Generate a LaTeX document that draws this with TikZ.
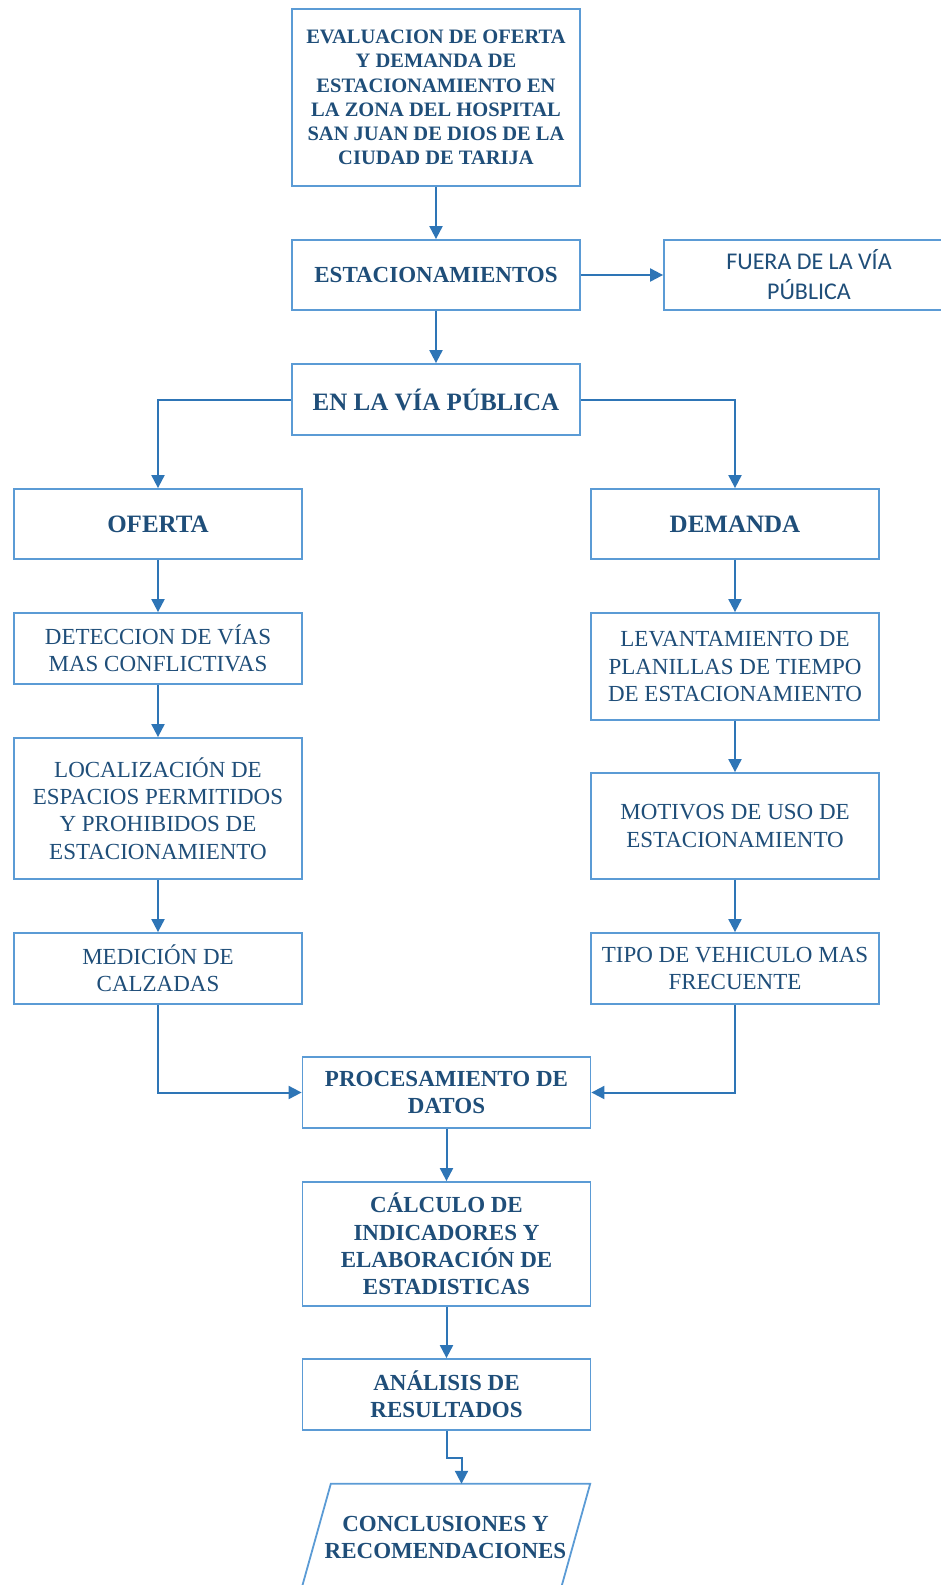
\documentclass[tikz,border=0pt]{standalone}
\usepackage{fontspec}
\setmainfont{Liberation Serif}
\newfontfamily\letrasans{Carlito}
\usetikzlibrary{
    positioning,                      % colocacion relativa
    arrows.meta,                      % puntas Triangle
    calc                              % aritmetica de coordenadas
}
\definecolor{borde}{HTML}{5B9BD5}
\definecolor{flecha}{HTML}{2E75B6}
\definecolor{texto}{HTML}{1F4E79}

\begin{document}
\begin{tikzpicture}[
        x=1pt, y=-1pt,
        caja/.style={draw=borde, line width=1.8pt, fill=white, align=center, text=texto,
            inner sep=2pt, minimum width=288pt, font=\fontsize{23}{27.3}\selectfont},
        cajab/.style={caja, font=\fontsize{23}{27.3}\selectfont\bfseries},
        titular/.style={caja, font=\fontsize{25}{30}\selectfont\bfseries},
        flujo/.style={draw=flecha, line width=2pt, -{Triangle[length=13pt,width=13pt]}}]

        \useasboundingbox (0,0) rectangle (941,1585);

        % columna central
        \node[cajab, minimum height=177pt, font=\fontsize{20.5}{24.3}\selectfont\bfseries] (titulo) at (436,97.5)
            {EVALUACION DE OFERTA\\Y DEMANDA DE\\ESTACIONAMIENTO EN\\LA ZONA DEL HOSPITAL\\SAN JUAN DE DIOS DE LA\\CIUDAD DE TARIJA};
        \node[cajab, minimum height=70pt] (estac) at (436,275) {ESTACIONAMIENTOS};
        \node[caja, minimum height=70pt, minimum width=290pt, font=\letrasans\fontsize{24}{30}\selectfont] (fuera) at (809,275)
            {FUERA DE LA VÍA\\PÚBLICA};
        \node[titular, minimum height=71pt] (via) at (436,399.5) {EN LA VÍA PÚBLICA};

        % rama de oferta
        \node[titular, minimum height=70pt] (oferta) at (158,524) {OFERTA};
        \node[caja, minimum height=71pt] (deteccion) at (158,648.5) {DETECCION DE VÍAS\\MAS CONFLICTIVAS};
        \node[caja, minimum height=141pt] (localiza) at (158,808.5)
            {LOCALIZACIÓN DE\\ESPACIOS PERMITIDOS\\Y PROHIBIDOS DE\\ESTACIONAMIENTO};
        \node[caja, minimum height=71pt] (medicion) at (158,968.5) {MEDICIÓN DE\\CALZADAS};

        % rama de demanda
        \node[titular, minimum height=70pt] (demanda) at (735,524) {DEMANDA};
        \node[caja, minimum height=107pt] (levanta) at (735,666.5)
            {LEVANTAMIENTO DE\\PLANILLAS DE TIEMPO\\DE ESTACIONAMIENTO};
        \node[caja, minimum height=106pt] (motivos) at (735,826) {MOTIVOS DE USO DE\\ESTACIONAMIENTO};
        \node[caja, minimum height=71pt] (tipo) at (735,968.5) {TIPO DE VEHICULO MAS\\FRECUENTE};

        % tramo final
        \node[cajab, minimum height=71pt] (proceso) at (446.5,1092.5) {PROCESAMIENTO DE\\DATOS};
        \node[cajab, minimum height=124pt] (calculo) at (446.5,1244)
            {CÁLCULO DE\\INDICADORES Y\\ELABORACIÓN DE\\ESTADISTICAS};
        \node[cajab, minimum height=71pt] (analisis) at (446.5,1394.5) {ANÁLISIS DE\\RESULTADOS};
        \node[font=\fontsize{23}{27.3}\selectfont\bfseries, text=texto, align=center,
            minimum height=107pt, minimum width=259pt, inner sep=0pt] (conclusion) at (445.5,1537.5)
            {CONCLUSIONES Y\\RECOMENDACIONES};
        \draw[draw=borde, line width=1.8pt]
            ($(conclusion.north west)+(15,0)$) -- ($(conclusion.north east)+(15,0)$) --
            ($(conclusion.south east)+(-15,0)$) -- ($(conclusion.south west)+(-15,0)$) -- cycle;

        \draw[flujo] (titulo) -- (estac);
        \draw[flujo] (estac) -- (fuera);
        \draw[flujo] (estac) -- (via);
        \draw[flujo] (via.west) -| (oferta.north);
        \draw[flujo] (via.east) -| (demanda.north);
        \draw[flujo] (oferta) -- (deteccion);
        \draw[flujo] (deteccion) -- (localiza);
        \draw[flujo] (localiza) -- (medicion);
        \draw[flujo] (demanda) -- (levanta);
        \draw[flujo] (levanta) -- (motivos);
        \draw[flujo] (motivos) -- (tipo);
        \draw[flujo] (medicion.south) |- (proceso.west);
        \draw[flujo] (tipo.south) |- (proceso.east);
        \draw[flujo] (proceso) -- (calculo);
        \draw[flujo] (calculo) -- (analisis);
        \draw[flujo] (analisis.south) -- ++(0,27) -| ([xshift=16pt]conclusion.north);
    \end{tikzpicture}
\end{document}
